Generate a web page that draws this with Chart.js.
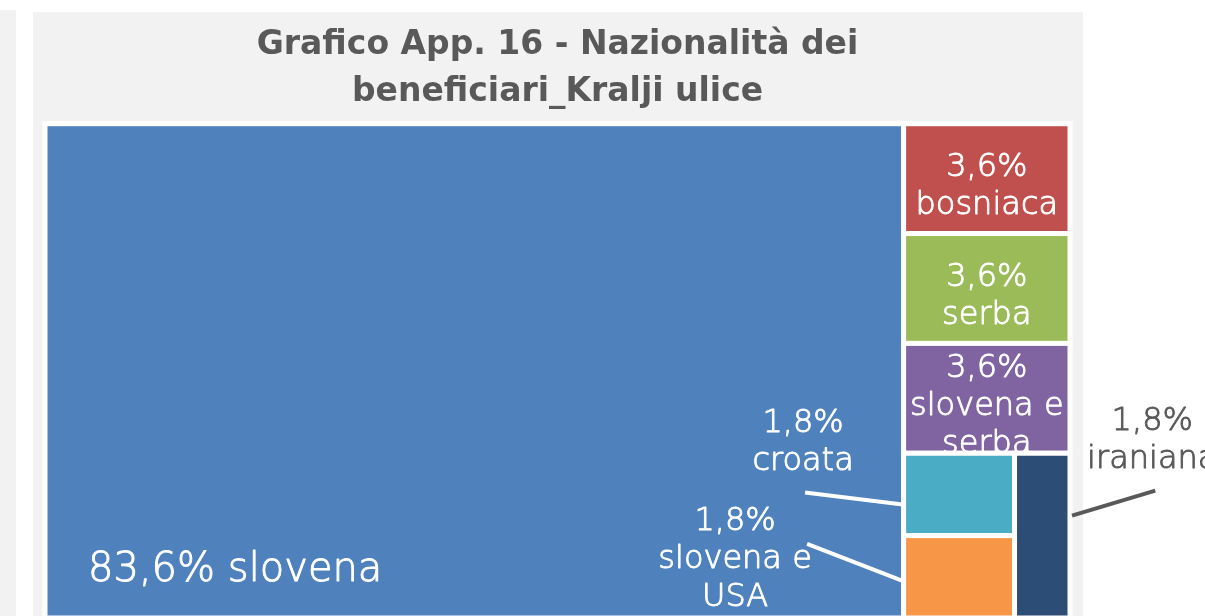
<!DOCTYPE html>
<html lang="it">
<head>
<meta charset="utf-8">
<title>Nazionalità dei beneficiari</title>
<script src="https://cdn.jsdelivr.net/npm/chart.js@4.4.1/dist/chart.umd.min.js"></script>
<style>
  html, body { margin: 0; padding: 0; background: #fff; overflow: hidden; }
  #striscia { position: absolute; left: 0; top: 10px; width: 16px; height: 640px; background: #f2f2f2; }
  #pannello { position: absolute; left: 33px; top: 12px; width: 1050px; height: 640px; background: #f2f2f2; }
  #grafico { position: absolute; left: 33px; top: 12px; display: block; }
</style>
</head>
<body>
<div id="striscia"></div>
<div id="pannello"></div>
<canvas id="grafico" width="1172" height="620"></canvas>
<script>
// nazionalità dei beneficiari (quote in %)
const nazionalita = ['slovena', 'bosniaca', 'serba', 'slovena e serba', 'croata', 'slovena e USA', 'iraniana'];
const percentuali = [83.6, 3.6, 3.6, 3.6, 1.8, 1.8, 1.8];
const colori = ['#4f81bd', '#c0504d', '#9bbb59', '#8064a2', '#4bacc6', '#f79646', '#2c4d75'];

const titolo = ['Grafico App. 16 - Nazionalità dei', 'beneficiari_Kralji ulice'];

const FONT = '"DejaVu Sans", sans-serif';

function formattaPct(v) {
    return v.toFixed(1).replace('.', ',') + '%';
}

// rapporto peggiore di una riga (algoritmo squarified)
function peggiore(riga, lato) {
    const s = riga.reduce((a, b) => a + b, 0);
    const max = Math.max(...riga), min = Math.min(...riga);
    return Math.max(lato * lato * max / (s * s), (s * s) / (lato * lato * min));
}

function squarify(aree, x, y, w, h) {
    const out = [];
    let i = 0;
    while (i < aree.length) {
        const lato = Math.min(w, h);
        let riga = [aree[i]];
        let p = peggiore(riga, lato);
        let j = i + 1;
        while (j < aree.length) {
            const prova = riga.concat(aree[j]);
            const q = peggiore(prova, lato);
            if (q > p) break;
            riga = prova; p = q; j++;
        }
        const somma = riga.reduce((a, b) => a + b, 0);
        const spessore = somma / lato;
        let off = 0;
        if (w >= h) {
            // colonna a sinistra
            riga.forEach(a => { const hh = a / spessore; out.push({ x: x, y: y + off, w: spessore, h: hh }); off += hh; });
            x += spessore; w -= spessore;
        } else {
            // riga in alto
            riga.forEach(a => { const ww = a / spessore; out.push({ x: x + off, y: y, w: ww, h: spessore }); off += ww; });
            y += spessore; h -= spessore;
        }
        i = j;
    }
    return out;
}

// divide il testo in righe che stanno nella larghezza data
function dividiTesto(ctx, testo, larghezza) {
    const parole = testo.split(' ');
    const righe = [];
    let corrente = '';
    parole.forEach(p => {
        const prova = corrente ? corrente + ' ' + p : p;
        if (corrente && ctx.measureText(prova).width > larghezza) {
            righe.push(corrente);
            corrente = p;
        } else {
            corrente = prova;
        }
    });
    if (corrente) righe.push(corrente);
    return righe;
}

// testo leggero con un filo di contorno per ispessirlo un po'
function scrivi(ctx, testo, x, y, colore, tratto) {
    ctx.fillStyle = colore;
    ctx.strokeStyle = colore;
    ctx.lineWidth = tratto;
    ctx.fillText(testo, x, y);
    ctx.strokeText(testo, x, y);
}

const treemapPlugin = {
    id: 'treemap',
    afterDatasetsDraw(chart, args, opts) {
        const ctx = chart.ctx;
        const sx = chart.scales.x, sy = chart.scales.y;
        const pw = sx.getPixelForValue(100) - sx.getPixelForValue(0);
        const ph = sy.getPixelForValue(0) - sy.getPixelForValue(100);
        const aspetto = pw / ph;

        // layout in unità dati (x scalata per l'aspetto)
        const totale = percentuali.reduce((a, b) => a + b, 0);
        const aree = percentuali.map(v => v / totale * 100 * aspetto * 100);
        const celle = squarify(aree, 0, 0, 100 * aspetto, 100).map(r => {
            const left = sx.getPixelForValue(r.x / aspetto);
            const right = sx.getPixelForValue((r.x + r.w) / aspetto);
            const top = sy.getPixelForValue(100 - r.y);
            const bottom = sy.getPixelForValue(100 - r.y - r.h);
            return { left, right, top, bottom, cx: (left + right) / 2, cy: (top + bottom) / 2 };
        });

        ctx.save();
        celle.forEach((c, i) => {
            ctx.fillStyle = colori[i];
            ctx.fillRect(c.left, c.top, c.right - c.left, c.bottom - c.top);
            ctx.strokeStyle = opts.bordo.colore;
            ctx.lineWidth = opts.bordo.spessore;
            ctx.strokeRect(c.left, c.top, c.right - c.left, c.bottom - c.top);
        });

        ctx.textAlign = 'center';
        ctx.textBaseline = 'middle';
        ctx.lineJoin = 'round';
        celle.forEach((c, i) => {
            const testo = formattaPct(percentuali[i]) + ' ' + nazionalita[i];
            const sp = opts.speciali[nazionalita[i]];
            const dim = sp && sp.dimensione ? sp.dimensione : opts.dimensione;
            ctx.font = `${opts.peso} ${dim}px ${FONT}`;
            const lh = opts.interlinea;

            if (sp && sp.modo === 'basso') {
                // etichetta in basso a sinistra, su una riga
                ctx.textAlign = 'left';
                ctx.textBaseline = 'alphabetic';
                scrivi(ctx, testo, c.left + sp.dx, c.bottom + sp.dy, opts.colore, opts.tratto);
                ctx.textAlign = 'center';
                ctx.textBaseline = 'middle';
                return;
            }

            if (sp && sp.modo === 'esterna') {
                const righe = dividiTesto(ctx, testo, opts.larghezzaEsterna);
                const lx = c.cx + sp.dx, ly = c.cy + sp.dy;
                // linea guida
                ctx.strokeStyle = sp.colore;
                ctx.lineWidth = opts.lineaGuida;
                ctx.beginPath();
                ctx.moveTo(lx + sp.da[0], ly + sp.da[1]);
                const ex = sp.a[0] === 0 ? c.left - 1 : c.right + 2;
                ctx.lineTo(ex, c.cy + sp.a[1]);
                ctx.stroke();
                righe.forEach((r, k) => scrivi(ctx, r, lx, ly + (k - (righe.length - 1) / 2) * lh, sp.colore, opts.tratto));
                return;
            }

            // etichetta interna, centrata e ritagliata sulla cella
            const righe = dividiTesto(ctx, testo, c.right - c.left - 4);
            ctx.save();
            ctx.beginPath();
            ctx.rect(c.left + 2, c.top + 2, c.right - c.left - 4, c.bottom - c.top - 4);
            ctx.clip();
            righe.forEach((r, k) => scrivi(ctx, r, c.cx, c.cy + opts.spostamento + (k - (righe.length - 1) / 2) * lh, opts.colore, opts.tratto));
            ctx.restore();
        });
        ctx.restore();
    }
};

new Chart(document.getElementById('grafico'), {
    type: 'scatter',
    data: { datasets: [{ label: 'Nazionalità', data: [] }] },
    options: {
        responsive: false,
        animation: false,
        layout: { padding: { left: 12, right: 135, top: 0, bottom: 14 } },
        scales: {
            x: { type: 'linear', min: 0, max: 100, display: false },
            y: { type: 'linear', min: 0, max: 100, display: false }
        },
        plugins: {
            legend: { display: false },
            tooltip: { enabled: false },
            title: {
                display: true,
                text: titolo,
                color: '#595959',
                font: { family: FONT, size: 33, weight: 'bold', lineHeight: 1.42 },
                padding: { top: 10, bottom: 8 }
            },
            treemap: {
                bordo: { colore: '#ffffff', spessore: 5 },
                dimensione: 32,
                peso: 200,
                tratto: 0.9,
                interlinea: 38,
                spostamento: 8,
                colore: '#ffffff',
                larghezzaEsterna: 165,
                lineaGuida: 4,
                speciali: {
                    'slovena': { modo: 'basso', dx: 43, dy: -37, dimensione: 40 },
                    'croata': { modo: 'esterna', dx: -156, dy: -52, colore: '#ffffff', da: [2, 50], a: [0, 10] },
                    'slovena e USA': { modo: 'esterna', dx: -224, dy: -17, colore: '#ffffff', da: [72, -16], a: [0, 4] },
                    'iraniana': { modo: 'esterna', dx: 110, dy: -95, colore: '#595959', da: [3, 50], a: [1, -20] }
                }
            }
        }
    },
    plugins: [treemapPlugin]
});
</script>
</body>
</html>
